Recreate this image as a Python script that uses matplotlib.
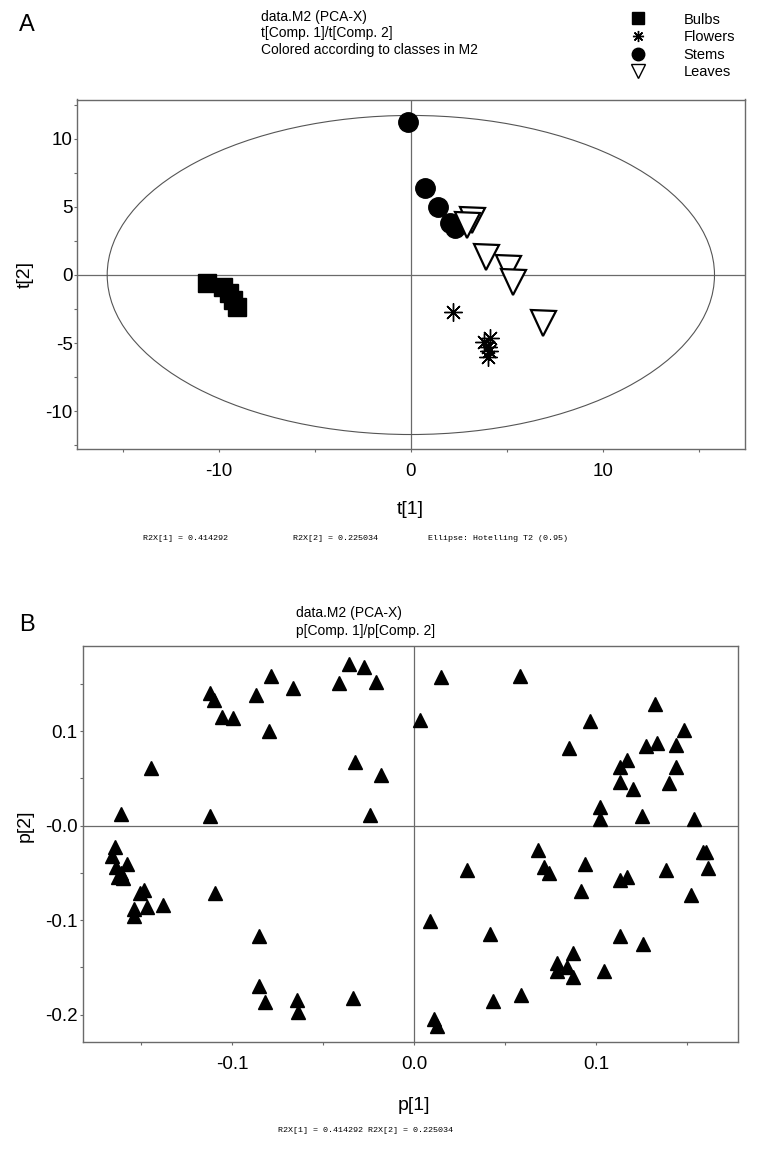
import matplotlib
matplotlib.use("Agg")
import matplotlib.pyplot as plt
from matplotlib.patches import Ellipse
from matplotlib.lines import Line2D
from matplotlib.ticker import FixedLocator, FixedFormatter

W, H = 757, 1155
plt.rcParams['font.family'] = ['Liberation Sans', 'DejaVu Sans']

# ---------------- data: panel A (scores) ----------------
classes = ["Bulbs", "Flowers", "Stems", "Leaves"]
bulbs_t1 = [-10.64, -9.77, -9.46, -9.25, -9.08]
bulbs_t2 = [-0.57, -0.86, -1.35, -1.84, -2.33]
flowers_t1 = [2.19, 3.80, 4.15, 4.00, 4.10, 4.00]
flowers_t2 = [-2.74, -4.90, -4.60, -5.30, -5.60, -6.00]
stems_t1 = [-0.16, 0.75, 1.41, 2.05, 2.31]
stems_t2 = [11.20, 6.37, 5.02, 3.80, 3.43]
leaves_t1 = [3.21, 2.95, 3.93, 5.09, 5.35, 6.89]
leaves_t2 = [4.04, 3.68, 1.35, 0.49, -0.49, -3.55]
ellipse_a = 15.83
ellipse_b = 11.70

# ---------------- data: panel B (loadings) ----------------
p1 = [-0.1607, -0.1444, -0.1121, -0.1097, -0.1053, -0.0997, -0.1121, -0.0868,
      -0.0784, -0.0799, -0.0667, -0.0415, -0.0357, -0.0273, -0.0212, -0.0324,
      -0.0183, -0.0241, 0.0033, 0.0146, 0.0581, 0.0964, 0.0847, 0.1322,
      0.1483, 0.1271, 0.1331, 0.1435, 0.1167, 0.1130, 0.1437, 0.1130,
      0.1203, 0.1399, 0.1020, 0.1020, 0.1249, 0.1536,
      -0.1640, -0.1658, -0.1635, -0.1576, -0.1625, -0.1598, -0.1609, -0.1485,
      -0.1503, -0.1540, -0.1536, -0.1466, -0.1379, -0.1095, -0.0854, -0.0854,
      -0.0817, -0.0643, -0.0638, -0.0338,
      0.0678, 0.0710, 0.0742, 0.0938, 0.0289, 0.0916, 0.1130, 0.1170,
      0.1381, 0.1584, 0.1602, 0.1615, 0.1519, 0.0088, 0.0417, 0.1130,
      0.1258, 0.0874, 0.0783, 0.0838, 0.0786, 0.0874, 0.1042, 0.0585,
      0.0435, 0.0111, 0.0124]
p2 = [0.0124, 0.0607, 0.1400, 0.1330, 0.1153, 0.1143, 0.0106, 0.1383,
      0.1584, 0.1002, 0.1460, 0.1513, 0.1708, 0.1683, 0.1524, 0.0677,
      0.0533, 0.0113, 0.1119, 0.1577, 0.1584, 0.1108, 0.0819, 0.1284,
      0.1013, 0.0847, 0.0879, 0.0854, 0.0695, 0.0624, 0.0624, 0.0459,
      0.0388, 0.0449, 0.0195, 0.0068, 0.0106, 0.0068,
      -0.0229, -0.0321, -0.0434, -0.0405, -0.0540, -0.0557, -0.0504, -0.0680,
      -0.0716, -0.0885, -0.0956, -0.0857, -0.0839, -0.0716, -0.1164, -0.1693,
      -0.1862, -0.1844, -0.1968, -0.1820,
      -0.0257, -0.0434, -0.0497, -0.0405, -0.0469, -0.0688, -0.0575, -0.0546,
      -0.0469, -0.0282, -0.0282, -0.0451, -0.0733, -0.1008, -0.1149, -0.1167,
      -0.1252, -0.1350, -0.1450, -0.1492, -0.1534, -0.1604, -0.1534, -0.1792,
      -0.1855, -0.2046, -0.2120]

# tick definitions
a_xmajor = [-10, 0, 10]
a_xlabels = ["-10", "0", "10"]
a_xminor = [-15, -5, 5, 15]
a_ymajor = [-10, -5, 0, 5, 10]
a_ylabels = ["-10", "-5", "0", "5", "10"]
a_yminor = [-12.5, -7.5, -2.5, 2.5, 7.5, 12.5]
b_xmajor = [-0.1, 0.0, 0.1]
b_xlabels = ["-0.1", "0.0", "0.1"]
b_xminor = [-0.15, -0.05, 0.05, 0.15]
b_ymajor = [-0.2, -0.1, 0.0, 0.1]
b_ylabels = ["-0.2", "-0.1", "-0.0", "0.1"]
b_yminor = [-0.15, -0.05, 0.05, 0.15]

GRAY = "#6a6a6a"


def fx(x):
    return x / W


def fy(y):
    return 1 - y / H


def style_axes(ax, xmaj, xlab, xmin, ymaj, ylab, ymin, xpad, ypad):
    for s in ax.spines.values():
        s.set_color(GRAY)
        s.set_linewidth(1.0)
    ax.xaxis.set_major_locator(FixedLocator(xmaj))
    ax.xaxis.set_major_formatter(FixedFormatter(xlab))
    ax.xaxis.set_minor_locator(FixedLocator(xmin))
    ax.yaxis.set_major_locator(FixedLocator(ymaj))
    ax.yaxis.set_major_formatter(FixedFormatter(ylab))
    ax.yaxis.set_minor_locator(FixedLocator(ymin))
    ax.tick_params(which='both', direction='out', length=2.2, width=0.8,
                   color=GRAY, labelsize=13.5)
    ax.tick_params(axis='x', which='major', pad=xpad)
    ax.tick_params(axis='y', which='major', pad=ypad)
    ax.axhline(0, color=GRAY, lw=0.9, zorder=1)
    ax.axvline(0, color=GRAY, lw=0.9, zorder=1)


fig = plt.figure(figsize=(W / 100, H / 100), dpi=100)

# ---------------- panel A ----------------
axA = fig.add_axes([fx(76.7), fy(448.7), (745 - 76.7) / W, (448.7 - 99.5) / H])
axA.set_xlim(-17.42, 17.42)
axA.set_ylim(-12.74, 12.87)
style_axes(axA, a_xmajor, a_xlabels, a_xminor, a_ymajor, a_ylabels, a_yminor, 8, 0.8)
axA.add_patch(Ellipse((0, 0), 2 * ellipse_a, 2 * ellipse_b, fill=False,
                      edgecolor="#555555", lw=0.8, zorder=1))
axA.plot(bulbs_t1, bulbs_t2, ls='none', marker='s', ms=13, color='k', mec='k', zorder=3)
axA.plot(flowers_t1, flowers_t2, ls='none', marker=(8, 2, 0), ms=13, color='k', mew=1.0, zorder=3)
axA.plot(stems_t1, stems_t2, ls='none', marker='o', ms=14, color='k', zorder=3)
axA.plot(leaves_t1, leaves_t2, ls='none', marker='v', ms=18, mfc='white', mec='k', mew=1.6, zorder=4)

fig.text(fx(27), fy(25), "A", fontsize=17, ha='center', va='center')
for i, line in enumerate(["data.M2 (PCA-X)", "t[Comp. 1]/t[Comp. 2]",
                          "Colored according to classes in M2"]):
    fig.text(fx(260.7), fy(16.7 + 16.7 * i), line, fontsize=10, ha='left', va='center')

leg_handles = [
    Line2D([], [], ls='none', marker='s', ms=8, color='k'),
    Line2D([], [], ls='none', marker=(8, 2, 0), ms=8, color='k', mew=1.0),
    Line2D([], [], ls='none', marker='o', ms=9, color='k'),
    Line2D([], [], ls='none', marker='v', ms=10, mfc='white', mec='k', mew=1.0),
]
fig.legend(leg_handles, classes, loc='upper left',
           bbox_to_anchor=(fx(631), fy(12.5)), frameon=False, fontsize=10.5,
           handlelength=1.0, handletextpad=2.6, labelspacing=0.25,
           borderpad=0, borderaxespad=0)

fig.text(fx(25), fy(275), "t[2]", fontsize=14, rotation=90, ha='center', va='center')
fig.text(fx(410.7), fy(510), "t[1]", fontsize=14, ha='center', va='center')
fig.text(fx(142.7), fy(539), "R2X[1] = 0.414292", fontsize=6, family='Liberation Mono',
         ha='left', va='center')
fig.text(fx(293), fy(539), "R2X[2] = 0.225034", fontsize=6, family='Liberation Mono',
         ha='left', va='center')
fig.text(fx(428.3), fy(539), "Ellipse: Hotelling T2 (0.95)", fontsize=6,
         family='Liberation Mono', ha='left', va='center')

# ---------------- panel B ----------------
axB = fig.add_axes([fx(82.5), fy(1041.7), (738.3 - 82.5) / W, (1041.7 - 646) / H])
axB.set_xlim(-0.1821, 0.1779)
axB.set_ylim(-0.2286, 0.1901)
style_axes(axB, b_xmajor, b_xlabels, b_xminor, b_ymajor, b_ylabels, b_yminor, 8, 1.5)
axB.plot(p1, p2, ls='none', marker='^', ms=10, color='k', zorder=3)

fig.text(fx(26.7), fy(625), "B", fontsize=17, ha='center', va='center')
for i, line in enumerate(["data.M2 (PCA-X)", "p[Comp. 1]/p[Comp. 2]"]):
    fig.text(fx(296), fy(612.7 + 18 * i), line, fontsize=10, ha='left', va='center')
fig.text(fx(25), fy(826), "p[2]", fontsize=14, rotation=90, ha='center', va='center')
fig.text(fx(414), fy(1105), "p[1]", fontsize=14, ha='center', va='center')
fig.text(fx(365), fy(1130), "R2X[1] = 0.414292 R2X[2] = 0.225034", fontsize=6,
         family='Liberation Mono', ha='center', va='center')

fig.savefig("out.png", dpi=100)
